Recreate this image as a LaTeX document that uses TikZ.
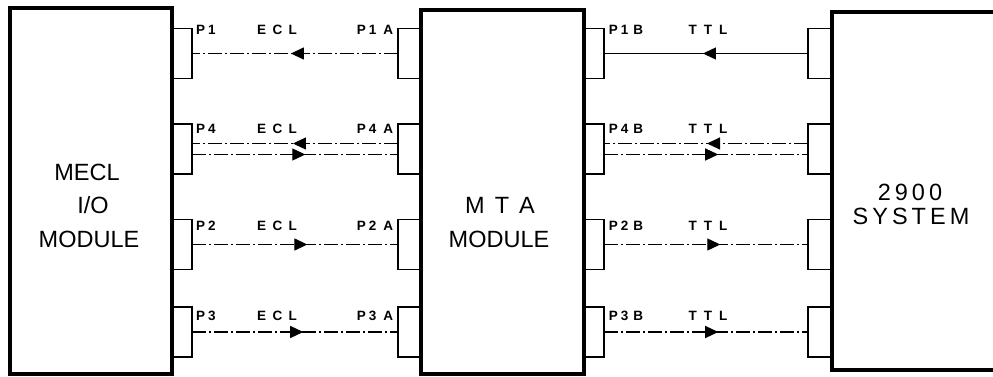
\documentclass[tikz,border=0pt]{standalone}
\usepackage{fontspec}
\setmainfont{Liberation Sans}
\usetikzlibrary{arrows.meta,decorations.markings,calc}
\newcommand\gp[1]{\hspace{#1pt}}
\begin{document}
\begin{tikzpicture}[x=1pt,y=-1pt,
  box/.style={draw, line width=3.4pt, inner sep=0, outer sep=0},
  port/.style={draw, line width=1.8pt, inner sep=0, outer sep=0, minimum height=50pt},
  sig/.style={line width=1.2pt, dash pattern=on 14pt off 3pt on 2pt off 3pt},
  solidsig/.style={line width=1.2pt},
  tip/.style={postaction={decorate}, decoration={markings, mark=at position #1 with {\arrow{Triangle[length=13pt,width=12pt]}}}},
  plbl/.style={font=\bfseries\fontsize{13.5}{13.5}\selectfont, inner sep=0, anchor=base},
  big/.style={font=\fontsize{23.5}{28}\selectfont, inner sep=0, anchor=base}
]
\useasboundingbox (0,0) rectangle (993,377);
\fill[white] (0,0) rectangle (993,377);

% main boxes
\node[box, minimum width=162pt, minimum height=366pt] (mecl) at (91,191) {};
\node[box, minimum width=163pt, minimum height=364pt] (mta) at (502.5,192) {};
\node[box, minimum width=260pt, minimum height=358pt, anchor=west] (sys) at (832,191) {};

% box texts
\node[big] (t1) at (87,180) {MECL};
\node[big] (t2) at (93,213) {I/O};
\node[big] (t3) at (89,247) {MODULE};
\node[big] (t4) at (500,213) {M\gp{10}T\gp{10}A};
\node[big] (t5) at (499,247) {MODULE};
\node[big] (t6) at (910,200) {2\gp{4}9\gp{4}0\gp{4}0};
\node[big] (t7) at (911,224) {S\gp{4}Y\gp{4}S\gp{4}T\gp{4}E\gp{4}M};

% ports
\foreach \n/\y in {1/53.5, 4/149, 2/244.5, 3/332} {
  \node[port, minimum width=20pt] (p\n) at (182,\y) {};
  \node[port, minimum width=23pt] (p\n a) at (409.5,\y) {};
  \node[port, minimum width=20pt] (p\n b) at (594,\y) {};
  \node[port, minimum width=24pt] (s\n) at (820,\y) {};
}

% connectors, ECL side
\draw[sig, tip=0.52] (p1a.west) -- (p1.east);
\draw[sig, tip=0.51] ($(p4a.west)+(0,-5.5)$) -- ($(p4.east)+(0,-5.5)$);
\draw[sig, tip=0.55] ($(p4.east)+(0,5.5)$) -- ($(p4a.west)+(0,5.5)$);
\draw[sig, tip=0.56] (p2.east) -- (p2a.west);
\draw[sig, tip=0.54] (p3.east) -- (p3a.west);

% connectors, TTL side
\draw[solidsig, tip=0.515] (s1.west) -- (p1b.east);
\draw[sig, tip=0.495] ($(s4.west)+(0,-5.5)$) -- ($(p4b.east)+(0,-5.5)$);
\draw[sig, tip=0.56] ($(p4b.east)+(0,5.5)$) -- ($(s4.west)+(0,5.5)$);
\draw[sig, tip=0.57] (p2b.east) -- (s2.west);
\draw[sig, tip=0.56] (p3b.east) -- (s3.west);

% labels
\foreach \n/\b in {1/35, 4/134, 2/230, 3/320} {
  \node[plbl] (l\n) at (206,\b) {P\gp{3}\n};
  \node[plbl] (l\n a) at (375,\b) {P\gp{3}\n\gp{7}A};
  \node[plbl] (e\n) at (277,\b) {E\gp{6.5}C\gp{6.5}L};
  \node[plbl] (l\n b) at (626,\b) {P\gp{3}\n\gp{5}B};
  \node[plbl] (tt\n) at (708,\b) {T\gp{7}T\gp{7}L};
}
\end{tikzpicture}
\end{document}
